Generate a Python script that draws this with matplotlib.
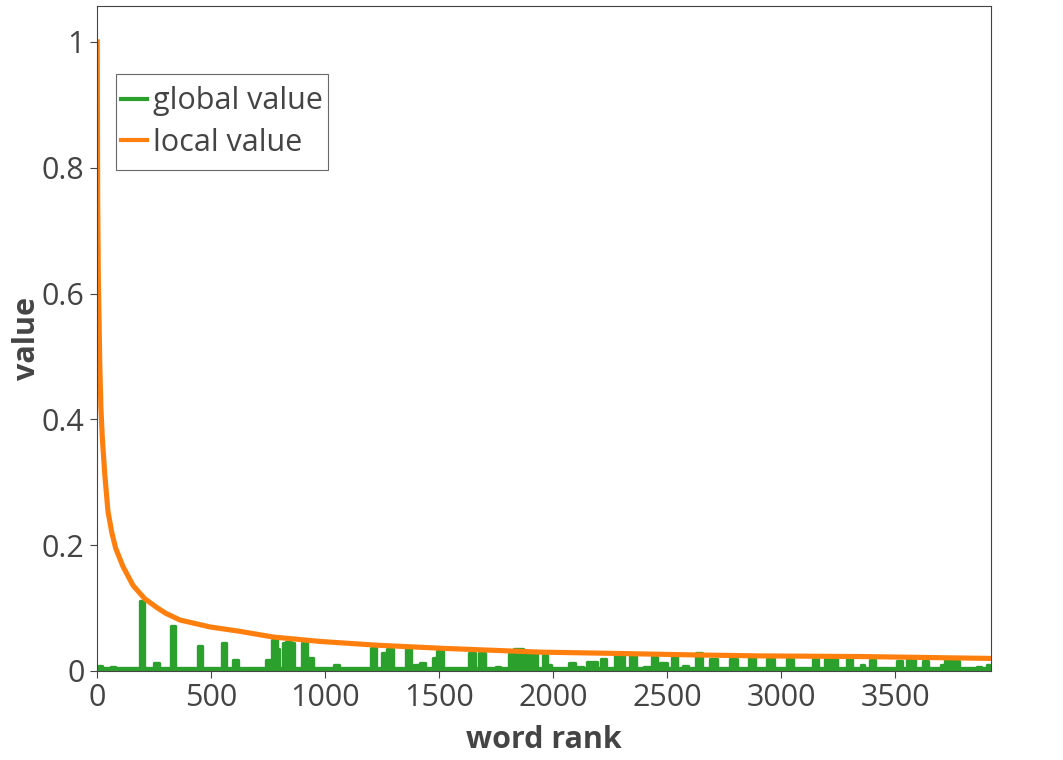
import matplotlib
matplotlib.use("Agg")
import matplotlib.pyplot as plt
from matplotlib.path import Path
import numpy as np

plt.rcParams['font.family'] = ['Open Sans', 'DejaVu Sans']

# ---- data ----
local_rank = [1, 3, 6, 9, 12, 17, 23, 34, 48, 65, 82, 114, 158, 209, 262, 300, 364,
              496, 627, 772, 978, 1227, 1518, 1943, 2265, 2630, 2908, 3346, 3917]
local_value = [1.0, 0.75, 0.62, 0.56, 0.49, 0.42, 0.372, 0.313, 0.254, 0.22, 0.195,
               0.166, 0.136, 0.115, 0.101, 0.092, 0.081, 0.070, 0.063, 0.054, 0.047, 0.041,
               0.036, 0.030, 0.028, 0.0255, 0.024, 0.023, 0.020]

global_base = 0.004
spike_start = [0, 60, 189, 250, 325, 443, 548, 597, 741, 768, 789, 816, 830, 850, 899, 921,
               1039, 1202, 1250, 1272, 1355, 1390, 1415, 1474, 1491, 1632, 1675, 1750,
               1807, 1829, 1868, 1899, 1956, 1974, 2020, 2070, 2110, 2149, 2211, 2272,
               2338, 2400, 2434, 2469, 2522, 2570, 2627, 2689, 2776, 2860, 2939, 3026,
               3140, 3193, 3289, 3350, 3390, 3509, 3553, 3623, 3700, 3719, 3754, 3860, 3903]
spike_end = [20, 80, 206, 272, 342, 461, 566, 618, 763, 789, 800, 830, 850, 864, 921, 947,
             1061, 1224, 1268, 1298, 1377, 1410, 1440, 1487, 1517, 1658, 1702, 1765,
             1829, 1868, 1890, 1930, 1974, 1990, 2040, 2096, 2130, 2193, 2232, 2311,
             2364, 2425, 2456, 2500, 2544, 2590, 2654, 2719, 2807, 2886, 2969, 3053,
             3162, 3246, 3311, 3365, 3412, 3531, 3588, 3645, 3715, 3754, 3781, 3875, 3917]
spike_height = [0.008, 0.006, 0.112, 0.013, 0.072, 0.040, 0.044, 0.018, 0.018, 0.050, 0.035,
                0.044, 0.046, 0.045, 0.045, 0.021, 0.009, 0.037, 0.029, 0.035, 0.035, 0.010,
                0.012, 0.021, 0.032, 0.029, 0.029, 0.006, 0.027, 0.035, 0.025, 0.030, 0.025,
                0.010, 0.005, 0.012, 0.006, 0.015, 0.019, 0.027, 0.026, 0.007, 0.023, 0.012,
                0.022, 0.008, 0.028, 0.019, 0.019, 0.020, 0.019, 0.019, 0.019, 0.019, 0.019,
                0.010, 0.018, 0.016, 0.018, 0.016, 0.010, 0.018, 0.016, 0.007, 0.010]

# build green polyline from spikes
gx, gy = [], []
for s, e, h in zip(spike_start, spike_end, spike_height):
    if gx and s > gx[-1]:
        gx += [s]; gy += [global_base]
    elif not gx:
        gx += [s]; gy += [h]
    gx += [s, e]; gy += [h, h]
    gx += [e]; gy += [global_base]
gx += [3920]; gy += [global_base]

GREEN = '#2ca02c'
ORANGE = '#ff7f0e'
TXT = '#444444'
FS = 22

# ---- figure ----
fig = plt.figure(figsize=(10.63, 7.60), dpi=100)
ax = fig.add_axes([97/1063, 1 - 671/760, (991-97)/1063, (671-6)/760])

ax.fill_between(gx, 0, gy, color=GREEN, lw=0)
ax.plot(gx, gy, color=GREEN, lw=2.4, label='global value')
ax.plot(local_rank, local_value, color=ORANGE, lw=3.7, label='local value')

ax.set_xlim(0, 3920)
ax.set_ylim(0, 1.057)
ax.set_xticks([0, 500, 1000, 1500, 2000, 2500, 3000, 3500])
ax.set_yticks([0, 0.2, 0.4, 0.6, 0.8, 1.0])
ax.set_yticklabels(['0', '0.2', '0.4', '0.6', '0.8', '1'])

for sp in ax.spines.values():
    sp.set_color(TXT)
    sp.set_linewidth(0.8)
ax.tick_params(axis='both', direction='out', length=5, width=0.8, colors=TXT,
               labelsize=FS, labelcolor=TXT, pad=4)

ax.set_xlabel('word rank', fontsize=FS, fontweight='bold', color=TXT)
ax.xaxis.label.set_va('center')
ax.xaxis.set_label_coords(0.5, -0.1038)
ax.set_ylabel('value', fontsize=FS, fontweight='bold', color=TXT)
ax.yaxis.label.set_va('center')
ax.yaxis.set_label_coords(-0.0783, 0.5)

PAD_Y = 7.0
leg = ax.legend(loc='upper left', bbox_to_anchor=(0.0209, 1 - (68 + PAD_Y)/665), fontsize=FS,
                frameon=True, fancybox=False, handlelength=0.85, handletextpad=0.2,
                borderpad=0.17, labelspacing=0.38, borderaxespad=0)


def tall_box(x0, y0, width, height, mutation_size):
    return Path([(x0, y0 - PAD_Y), (x0 + width, y0 - PAD_Y), (x0 + width, y0 + height + PAD_Y),
                 (x0, y0 + height + PAD_Y), (x0, y0 - PAD_Y)], closed=True)


leg.get_frame().set_boxstyle(tall_box)
leg.get_frame().set_edgecolor(TXT)
leg.get_frame().set_linewidth(0.8)
for t in leg.get_texts():
    t.set_color(TXT)
for l in leg.get_lines():
    l.set_linewidth(3.0)

fig.savefig('out.png', dpi=100)
